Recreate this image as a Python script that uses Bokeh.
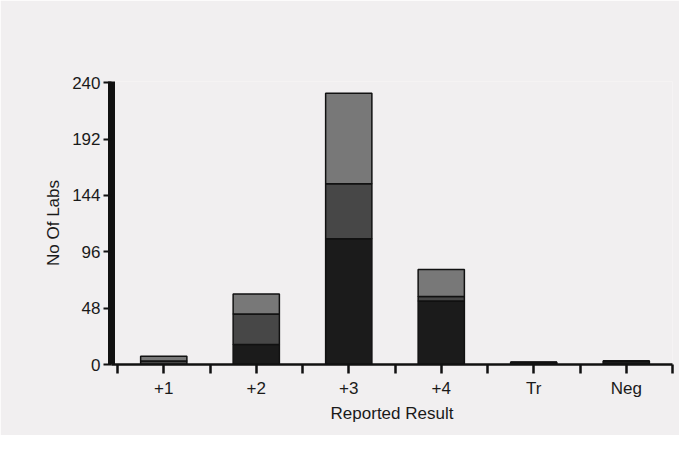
from bokeh.plotting import figure
from bokeh.models import ColumnDataSource, FixedTicker, Range1d
from bokeh.embed import file_html
from bokeh.resources import INLINE

categories = ["+1", "+2", "+3", "+4", "Tr", "Neg"]
dark = [0, 17, 107, 54, 2, 3]
mid = [3, 26, 47, 4, 0, 0]
light = [4, 17, 77, 23, 0, 0]
y_ticks = [0, 48, 96, 144, 192, 240]

xpos = [i + 0.5 for i in range(len(categories))]
src = ColumnDataSource(dict(x=xpos, dark=dark, mid=mid, light=light))

BG = "#f1eff0"
p = figure(width=679, height=435, output_backend="svg", toolbar_location=None,
           x_range=Range1d(-0.065, 6.0), y_range=Range1d(0, 241),
           min_border_left=111, min_border_right=7, min_border_top=81, min_border_bottom=71)
p.background_fill_color = BG
p.border_fill_color = BG
p.outline_line_color = None
p.grid.visible = False

p.vbar_stack(["dark", "mid", "light"], x="x", width=0.5, source=src,
             fill_color=["#1b1b1b", "#474747", "#787878"],
             line_color="#111111", line_width=1.5)

xt = [i * 0.5 for i in range(2 * len(categories) + 1)]
overrides = {}
for t in xt:
    overrides[t] = ""
for i, c in enumerate(categories):
    overrides[i + 0.5] = c
p.xaxis.ticker = FixedTicker(ticks=xt)
p.xaxis.major_label_overrides = overrides
p.xaxis.minor_tick_line_color = None
p.xaxis.axis_line_width = 2.5
p.xaxis.axis_line_color = "#111111"
p.xaxis.major_tick_line_width = 2.5
p.xaxis.major_tick_line_color = "#111111"
p.xaxis.major_tick_in = 0
p.xaxis.major_tick_out = 9
p.xaxis.major_label_standoff = 5
p.xaxis.axis_label = "Reported Result"
p.xaxis.axis_label_standoff = 3

p.yaxis.ticker = FixedTicker(ticks=y_ticks)
p.yaxis.minor_tick_line_color = None
p.yaxis.axis_line_width = 7
p.yaxis.axis_line_color = "#111111"
p.yaxis.major_tick_line_width = 2
p.yaxis.major_tick_line_color = "#111111"
p.yaxis.major_tick_in = 0
p.yaxis.major_tick_out = 8
p.yaxis.major_label_standoff = 3
p.yaxis.axis_label = "No Of Labs"
p.yaxis.axis_label_standoff = 6

for ax in (p.xaxis, p.yaxis):
    ax.major_label_text_font = "Liberation Sans"
    ax.major_label_text_font_size = "17px"
    ax.major_label_text_color = "#1a1a1a"
    ax.axis_label_text_font = "Liberation Sans"
    ax.axis_label_text_font_size = "17px"
    ax.axis_label_text_font_style = "normal"
    ax.axis_label_text_color = "#1a1a1a"

open("out.html", "w").write(file_html(p, INLINE))
